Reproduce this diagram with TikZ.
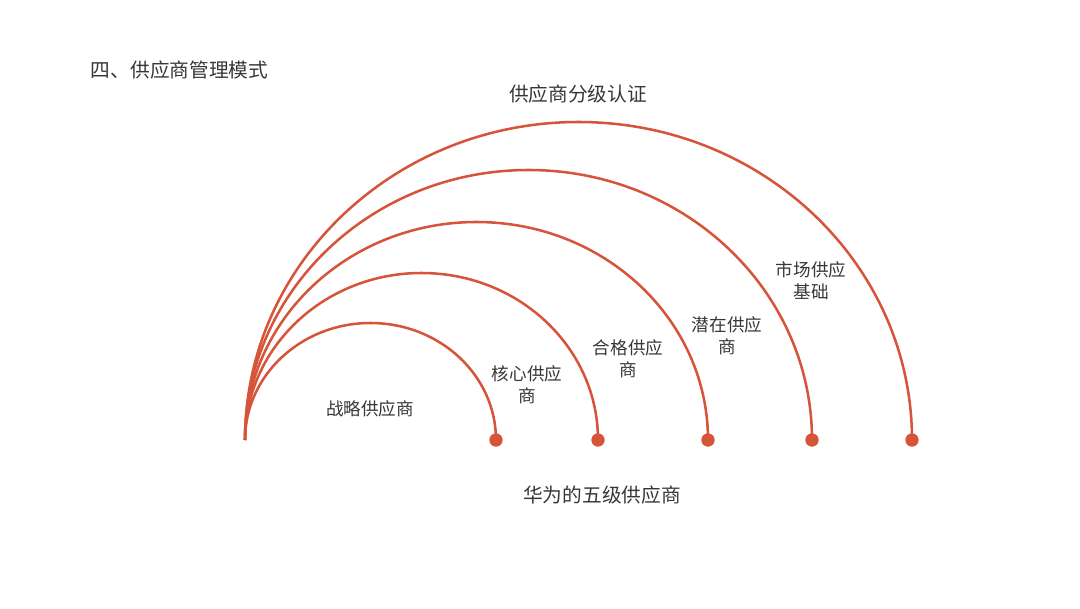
\documentclass[tikz,border=0pt]{standalone}
\usepackage{fontspec}
\setmainfont{Noto Sans CJK SC}
\usetikzlibrary{positioning}
\definecolor{arcred}{RGB}{214,84,58}
\definecolor{txtgray}{RGB}{55,55,55}

\begin{document}
\begin{tikzpicture}[
  x=0.025cm, y=0.025cm,
  every node/.style={font=\fontsize{12.5}{15.6}\selectfont, text=txtgray},
  lvl/.style={align=center},
  head/.style={font=\fontsize{14}{17}\selectfont},
  arcline/.style={draw=arcred, line width=1.8pt},
  enddot/.style={circle, fill=arcred, minimum size=9.5pt, inner sep=0},
]
\useasboundingbox (0,0) rectangle (1080,608);

\def\rootx{245}
\coordinate (root) at (\rootx,168);

%% ── five nested arcs, all from the common root ───────────────────────────
\foreach \rx/\ry [count=\i] in {125.5/117, 176.5/167, 231.5/218, 283.5/270, 333.5/318} {
  \draw[arcline] (root) arc[start angle=180, end angle=0, x radius=\rx, y radius=\ry];
  \node[enddot] (d\i) at ({\rootx+2*\rx},168) {};
}

%% ── level labels ─────────────────────────────────────────────────────────
\node[lvl] (l1) at (370,199) {战略供应商};
\node[lvl] (l2) at (527,223) {核心供应\\商};
\node[lvl] (l3) at (628,249) {合格供应\\商};
\node[lvl] (l4) at (727,272) {潜在供应\\商};
\node[lvl] (l5) at (811,327) {市场供应\\基础};

%% ── headings ─────────────────────────────────────────────────────────────
\node[head, anchor=west] (title) at (86,538) {四、供应商管理模式};
\node[head] (top) at (578,514) {供应商分级认证};
\node[head] (bottom) at (602,113) {华为的五级供应商};

\end{tikzpicture}
\end{document}
